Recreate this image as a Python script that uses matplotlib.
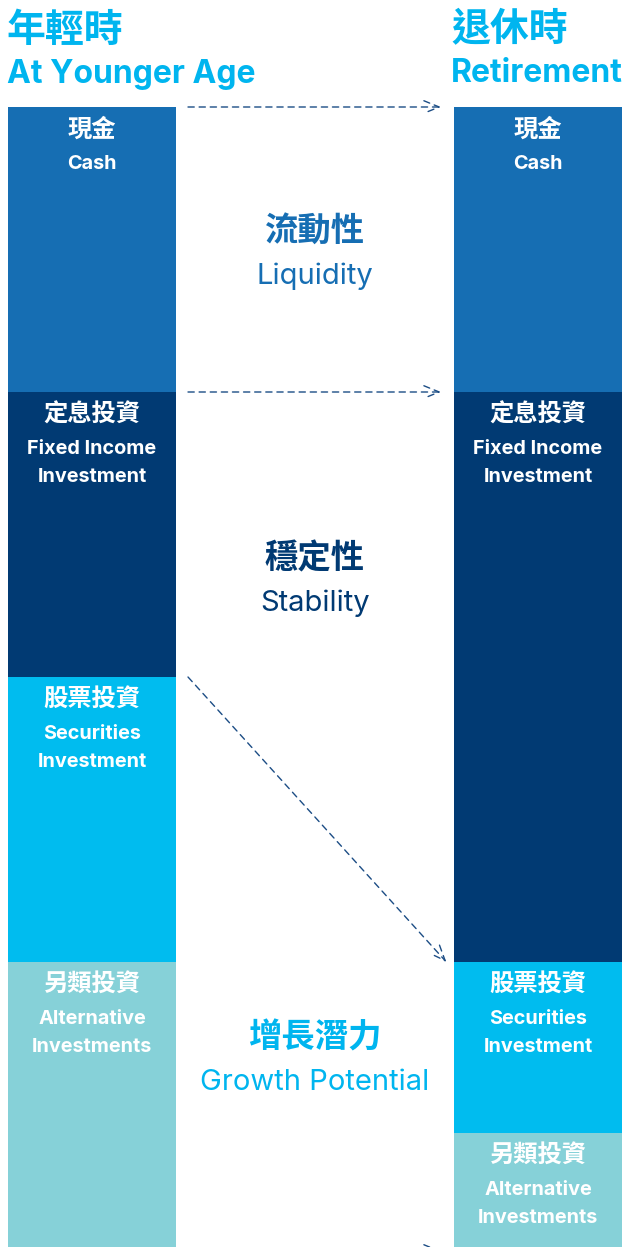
import numpy as np
import matplotlib
matplotlib.use("Agg")
import matplotlib.pyplot as plt

# Datos: composição da carteira (% do total) em cada fase
fases_zh = ["年輕時", "退休時"]
fases_en = ["At Younger Age", "Retirement"]
classes_zh = ["現金", "定息投資", "股票投資", "另類投資"]
classes_en = ["Cash", "Fixed Income\nInvestment", "Securities\nInvestment", "Alternative\nInvestments"]
jovem = [25, 25, 25, 25]
reforma = [25, 50, 15, 10]
cores = ["#166eb3", "#013a73", "#00bcef", "#86d1d8"]

temas_zh = ["流動性", "穩定性", "增長潛力"]
temas_en = ["Liquidity", "Stability", "Growth Potential"]
temas_cor = ["#166eb3", "#013a73", "#00b5ef"]
temas_y = [12.9, 41.6, 83.6]   # posição vertical (% da altura das barras)

CJK = ["Noto Sans CJK TC", "DejaVu Sans"]
LAT = ["Inter", "DejaVu Sans"]
titulo_cor = "#00b5ef"
seta_cor = "#1c4d85"

W, H = 637, 1247
fig = plt.figure(figsize=(W / 100, H / 100), dpi=100)
topo = 107
ax = fig.add_axes([0, 0, 1, (H - topo) / H])
ax.set_xlim(-92 / 446, (W - 92) / 446)
ax.set_ylim(100, 0)
ax.axis("off")

largura = 168 / 446
for i, valores in enumerate([jovem, reforma]):
    base = np.concatenate([[0], np.cumsum(valores)[:-1]])
    ax.bar([i] * len(valores), valores, bottom=base, width=largura, color=cores,
           linewidth=0, align="center")
    for zh, en, b in zip(classes_zh, classes_en, base):
        ax.annotate(zh, xy=(i, b), xytext=(0, -23), textcoords="offset pixels",
                    ha="center", va="center", color="white", fontsize=17.5,
                    family=CJK, fontweight="bold")
        ax.annotate(en, xy=(i, b), xytext=(0, -48), textcoords="offset pixels",
                    ha="center", va="top", color="white", fontsize=14.3,
                    family=LAT, fontweight="bold", linespacing=1.7)

# Títulos das colunas
for i, (zh, en) in enumerate(zip(fases_zh, fases_en)):
    x = [7, 451][i] / W
    fig.text(x, 1 - 30 / H, zh, ha="left", va="center", color=titulo_cor,
             fontsize=28, family=CJK, fontweight="bold")
    fig.text(x, 1 - 74 / H, en, ha="left", va="center", color=titulo_cor,
             fontsize=23, family=LAT, fontweight="bold")

# Temas ao centro
for zh, en, cor, y in zip(temas_zh, temas_en, temas_cor, temas_y):
    ax.annotate(zh, xy=(0.5, y), xytext=(0, 22), textcoords="offset pixels",
                ha="center", va="center", color=cor, fontsize=24,
                family=CJK, fontweight="bold")
    ax.annotate(en, xy=(0.5, y), xytext=(0, -22), textcoords="offset pixels",
                ha="center", va="center", color=cor, fontsize=21, family=LAT)

# Setas tracejadas entre as fronteiras dos segmentos
fj = np.concatenate([[0], np.cumsum(jovem)])
fr = np.concatenate([[0], np.cumsum(reforma)])
x0 = largura / 2 + 12 / 446
x1 = 1 - largura / 2 - 13 / 446
ligacoes = [(fj[0], fr[0]), (fj[1], fr[1]), (fj[2], fr[2]), (fj[4] + 0.35, fr[4] + 0.35)]
for ya, yb in ligacoes:
    ax.annotate("", xy=(x1 + (0.012 if yb != ya else 0), yb), xytext=(x0, ya),
                arrowprops=dict(arrowstyle="->,head_length=1.1,head_width=0.45",
                                color=seta_cor, lw=1.0, linestyle=(0, (4.5, 3.5)),
                                shrinkA=0, shrinkB=0),
                annotation_clip=False)

fig.savefig("out.png", dpi=100)
